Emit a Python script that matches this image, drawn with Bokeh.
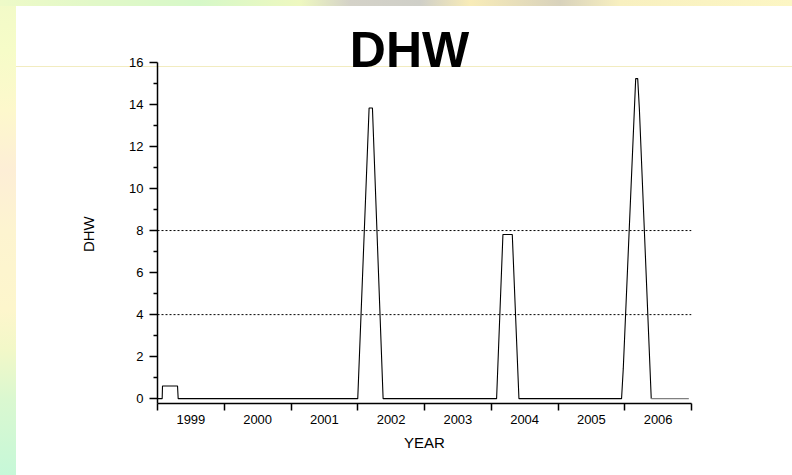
from bokeh.plotting import figure
from bokeh.models import FixedTicker, Span, Label, Range1d
from bokeh.embed import file_html
from bokeh.resources import INLINE

# ---- data ----
years = [1999.0, 1999.07, 1999.075, 1999.30, 1999.31, 2002.0, 2002.17, 2002.22,
         2002.38, 2004.08, 2004.175, 2004.315, 2004.415, 2005.952, 2005.978,
         2006.164, 2006.194, 2006.219, 2006.397]
dhw = [0, 0, 0.6, 0.6, 0, 0, 13.83, 13.83, 0, 0, 7.81, 7.81, 0, 0, 1.44,
       15.23, 15.23, 13.8, 0]
tail_years = [2006.397, 2006.96]
tail_dhw = [0, 0]
thresholds = [4, 8]
year_labels = ["1999", "2000", "2001", "2002", "2003", "2004", "2005", "2006"]
year_bounds = [1999, 2000, 2001, 2002, 2003, 2004, 2005, 2006, 2007]
y_major = [0, 2, 4, 6, 8, 10, 12, 14, 16]
y_minor = [1, 3, 5, 7, 9, 11, 13, 15]

FONT = "Liberation Sans"

# slide-like background: top and left coloured strips, white sheet, faint rule
bg = ", ".join([
    "linear-gradient(#f2ecc0, #f2ecc0) 16px 66px / 776px 1px no-repeat",
    "linear-gradient(#ffffff, #ffffff) 16px 6px / 776px 469px no-repeat",
    "linear-gradient(to right, #eefac8 0px, #e2f8c8 90px, #d6f8c8 200px, "
    "#eef8c0 300px, #d4d2c8 350px, #cfcfc8 420px, #f8ecb8 470px, "
    "#d8d2bc 560px, #f8f0c0 620px, #fcf6c4 792px) 0 0 / 792px 6px no-repeat",
    "linear-gradient(to bottom, #f2fac8 0px, #f6fcc8 50px, #fdf8cc 110px, "
    "#fdeed6 170px, #fdf4d0 230px, #fdf6cc 310px, #f2f8c8 350px, "
    "#daf8d0 400px, #c6f8d8 475px) 0 0 / 16px 475px no-repeat",
])

p = figure(width=792, height=475, output_backend="svg", toolbar_location=None,
           x_range=Range1d(1999.0, 2007.0), y_range=Range1d(-0.23, 18.662),
           min_border_left=157, min_border_right=101, min_border_top=6,
           min_border_bottom=72, styles={"background": bg})
p.background_fill_color = None
p.border_fill_color = None
p.outline_line_color = None
p.grid.visible = False

# threshold lines
for t in thresholds:
    p.add_layout(Span(location=t, dimension="width", line_color="black",
                      line_width=1, line_dash="2 2"))

p.line(years, dhw, line_color="black", line_width=1.1)
p.line(tail_years, tail_dhw, line_color="#808080", line_width=1.1)

# axes
ya = p.yaxis[0]
ya.ticker = FixedTicker(ticks=y_major, minor_ticks=y_minor)
ya.bounds = (-0.23, 16)
ya.major_tick_out = 8
ya.major_tick_in = 0
ya.minor_tick_out = 4
ya.minor_tick_in = 0
ya.axis_line_width = 1.5
ya.major_tick_line_width = 1.5
ya.minor_tick_line_width = 1.5
ya.major_label_text_font = FONT
ya.major_label_text_font_size = "13px"
ya.major_label_text_color = "black"
ya.major_label_standoff = 6
# trailing no-break spaces shift the visible word down to the middle of the 0..16 axis
ya.axis_label = "DHW" + "\u00a0" * 14
ya.axis_label_text_font = FONT
ya.axis_label_text_font_size = "15px"
ya.axis_label_text_font_style = "normal"
ya.axis_label_text_color = "black"
ya.axis_label_standoff = 29

mids = [b + 0.5 for b in year_bounds[:-1]]
xa = p.xaxis[0]
xa.ticker = FixedTicker(ticks=mids, minor_ticks=year_bounds)
xa.major_label_overrides = {m: s for m, s in zip(mids, year_labels)}
xa.major_tick_out = 0
xa.major_tick_in = 0
xa.minor_tick_out = 7
xa.minor_tick_in = 0
xa.axis_line_width = 1.5
xa.minor_tick_line_width = 1.5
xa.major_label_text_font = FONT
xa.major_label_text_font_size = "13px"
xa.major_label_text_color = "black"
xa.major_label_standoff = 4
xa.axis_label = "YEAR"
xa.axis_label_text_font = FONT
xa.axis_label_text_font_size = "15px"
xa.axis_label_text_font_style = "normal"
xa.axis_label_text_color = "black"
xa.axis_label_standoff = 7

# chart title
p.add_layout(Label(x=2002.775, y=16.6, text="DHW", text_font=FONT,
                   text_font_size="50px", text_font_style="bold",
                   text_align="center", text_baseline="alphabetic",
                   text_color="black"))

open("out.html", "w").write(file_html(p, INLINE))
